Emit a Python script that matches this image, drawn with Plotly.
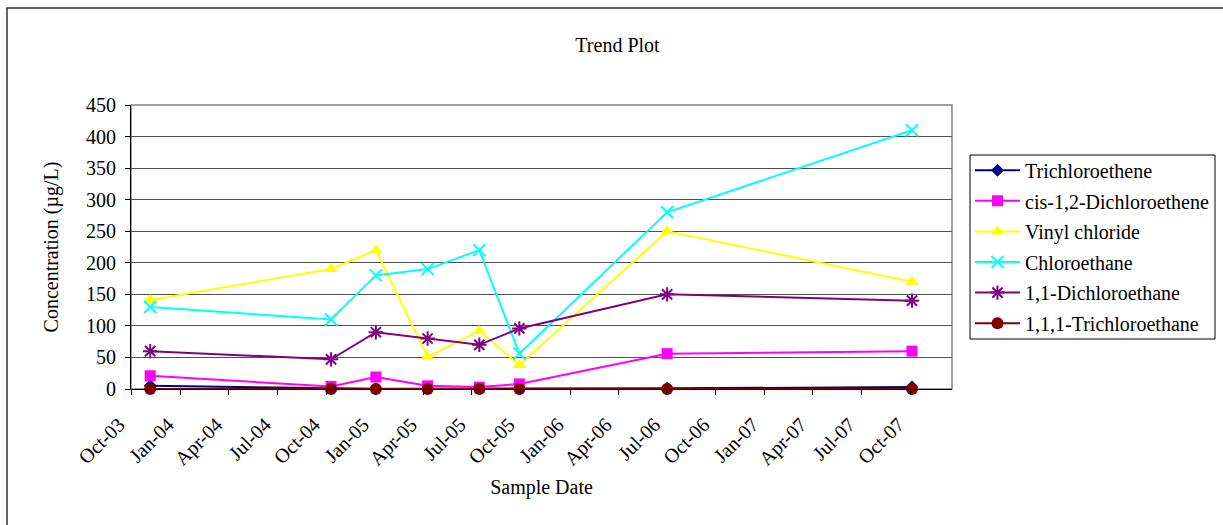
import plotly.graph_objects as go

# Sampling events
sample_dates = ["2003-11-06", "2004-10-10", "2005-01-02", "2005-04-09",
                "2005-07-15", "2005-09-28", "2006-07-02", "2007-10-04"]

# Concentrations (ug/L) per compound
trichloroethene = [5, 0.5, 0.5, 0.5, 0.5, 0.5, 1, 3]
cis_12_dce = [21, 4, 19, 5, 3, 8, 56, 60]
vinyl_chloride = [141, 190, 220, 51, 92, 38, 250, 170]
chloroethane = [130, 110, 180, 190, 220, 56, 280, 410]
dca_11 = [60, 47, 90, 80, 70, 96, 150, 140]
tca_111 = [0, 0, 0, 0, 0, 0, 0, 0]

series = [
    ("Trichloroethene", trichloroethene, "#000080", "diamond", 10, 0),
    ("cis-1,2-Dichloroethene", cis_12_dce, "#FF00FF", "square", 11, 0),
    ("Vinyl chloride", vinyl_chloride, "#FFFF00", "triangle-up", 12, 0),
    ("Chloroethane", chloroethane, "#00FFFF", "x-thin-open", 12, 2),
    ("1,1-Dichloroethane", dca_11, "#800080", "asterisk-open", 12, 2),
    ("1,1,1-Trichloroethane", tca_111, "#800000", "circle", 12, 0),
]

FONT = "Liberation Serif, Times New Roman, serif"
FS = 20

fig = go.Figure()
for i, (name, vals, color, symbol, size, mlw) in enumerate(series):
    marker = dict(symbol=symbol, size=size, color=color)
    if mlw:
        marker["line"] = dict(color=color, width=mlw)
    else:
        marker["line"] = dict(width=0)
    fig.add_trace(go.Scatter(
        x=sample_dates, y=vals, name=name, mode="lines+markers",
        line=dict(color=color, width=2), marker=marker,
        legendgroup=f"g{i}", cliponaxis=False,
    ))

W, H = 1223, 525
L, R, T, B = 131, 952, 105, 389


def px_x(p):
    return (p - L) / (R - L)


def px_y(p):
    return (B - p) / (B - T)


fig.update_layout(
    width=W, height=H,
    margin=dict(l=L, r=W - R, t=T, b=H - B),
    paper_bgcolor="white", plot_bgcolor="white",
    font=dict(family=FONT, size=FS, color="black"),
    title=dict(text="Trend Plot", x=617.5 / W, xref="container",
               y=1 - 45 / H, yref="container", xanchor="center", yanchor="middle",
               font=dict(family=FONT, size=FS, color="black")),
    showlegend=True,
    legend=dict(
        x=970 / W, xref="container", y=1 - 150.7 / H, yref="container",
        xanchor="left", yanchor="top",
        borderwidth=0, bgcolor="rgba(0,0,0,0)",
        font=dict(family=FONT, size=FS, color="black"),
        traceorder="grouped", tracegroupgap=1.6, itemwidth=45,
    ),
    xaxis=dict(
        type="date", range=["2003-10-01", "2007-12-18"],
        tick0="2003-10-01", dtick="M3", tickformat="%b-%y", tickangle=-45,
        ticks="outside", ticklen=5, tickcolor="black",
        ticklabelshift=-12, ticklabelstandoff=10,
        showline=True, linecolor="black", linewidth=1,
        showgrid=False, zeroline=False,
        title=dict(text="Sample Date", standoff=10,
                   font=dict(family=FONT, size=FS, color="black")),
    ),
    yaxis=dict(
        range=[0, 450], dtick=50, tick0=0,
        ticks="outside", ticklen=5, tickcolor="black",
        ticklabelstandoff=5,
        showline=True, linecolor="black", linewidth=1,
        showgrid=True, gridcolor="#505050", gridwidth=1, zeroline=False,
        title=dict(text="Concentration (µg/L)", standoff=22,
                   font=dict(family=FONT, size=FS, color="black")),
    ),
    shapes=[
        # plot area frame (top/right edges)
        dict(type="rect", xref="paper", yref="paper", x0=0, x1=1, y0=0, y1=1,
             line=dict(color="#808080", width=1.5), layer="below"),
        # chart area border
        dict(type="rect", xref="paper", yref="paper",
             x0=px_x(7), x1=px_x(1232), y0=px_y(534), y1=px_y(8),
             line=dict(color="#303030", width=1.5), layer="below"),
        # legend frame
        dict(type="rect", xref="paper", yref="paper",
             x0=px_x(970), x1=px_x(1215), y0=px_y(339), y1=px_y(155),
             line=dict(color="black", width=1), fillcolor="white", layer="below"),
    ],
)

fig.write_html("out.html")
